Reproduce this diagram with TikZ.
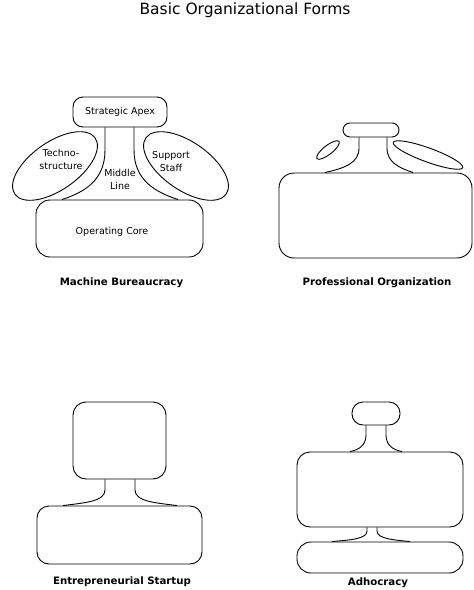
\documentclass[tikz,border=0pt]{standalone}
\usepackage{fontspec}
\setmainfont{DejaVu Sans}
\begin{document}
\begin{tikzpicture}[x=1pt,y=-1pt,line width=0.9pt,
  box/.style={draw,rectangle,inner sep=0pt},
  txt/.style={inner sep=0pt,align=center,font=\fontsize{9.5}{13}\selectfont},
  captxt/.style={inner sep=0pt,font=\fontsize{10.2}{12}\selectfont\bfseries},
  neck/.style={line width=0.9pt}]
\useasboundingbox (0,0) rectangle (474,590);
\node[inner sep=0pt,font=\fontsize{15.5}{18}\selectfont] (title) at (245,10) {Basic Organizational Forms};

% ---------- Machine Bureaucracy ----------
\node[box,minimum width=94pt,minimum height=30pt,rounded corners=10pt,font=\fontsize{9.5}{12}\selectfont] (mbapex) at (120,112) {Strategic Apex};
\node[box,minimum width=167pt,minimum height=57pt,rounded corners=14pt] (mbcore) at (119.5,228.5) {};
\node[txt] (mbcoretxt) at (112,232) {Operating Core};
\draw[rotate around={35:(55,166)}] (55,166) ellipse [x radius=49pt,y radius=24pt];
\draw[rotate around={-35:(186,166)}] (186,166) ellipse [x radius=49pt,y radius=24pt];
\node[txt] (techno) at (61,159.5) {Techno-\\structure};
\node[txt] (support) at (171,161.5) {Support\\Staff};
\node[txt] (middle) at (120,179) {Middle\\Line};
\draw[neck] (mbapex.south -| 105,0) -- (105,150) .. controls (105,180) and (85,192) .. (mbcore.north -| 62,0);
\draw[neck] (mbapex.south -| 134,0) -- (134,150) .. controls (134,180) and (155,192) .. (mbcore.north -| 178,0);
\node[captxt] (mbcap) at (121.5,283) {Machine Bureaucracy};

% ---------- Professional Organization ----------
\node[box,minimum width=56pt,minimum height=14pt,rounded corners=7pt] (poapex) at (371,130) {};
\node[box,minimum width=193pt,minimum height=85pt,rounded corners=15pt] (pocore) at (375.5,215.5) {};
\draw[rotate around={38:(328,150)}] (328,150) ellipse [x radius=14pt,y radius=4.5pt];
\draw[rotate around={-20:(428,155)}] (428,155) ellipse [x radius=37pt,y radius=7pt];
\draw[neck] (poapex.south -| 359,0) -- (359,148) .. controls (359,163) and (345,168) .. (pocore.north -| 325,0);
\draw[neck] (poapex.south -| 387,0) -- (387,148) .. controls (387,163) and (400,168) .. (pocore.north -| 413,0);
\node[captxt] (pocap) at (377,283) {Professional Organization};

% ---------- Entrepreneurial Startup ----------
\node[box,minimum width=93pt,minimum height=77pt,rounded corners=13pt] (estop) at (119.5,440.5) {};
\node[box,minimum width=165pt,minimum height=58pt,rounded corners=12pt] (esbot) at (119.5,535) {};
\draw[neck] (estop.south -| 105,0) -- (105,490) .. controls (105,502) and (82,503) .. (esbot.north -| 63,0);
\draw[neck] (estop.south -| 135,0) -- (135,490) .. controls (135,502) and (158,503) .. (esbot.north -| 177,0);
\node[captxt] (escap) at (122,582) {Entrepreneurial Startup};

% ---------- Adhocracy ----------
\node[box,minimum width=48pt,minimum height=23pt,rounded corners=11pt] (adtop) at (376,413.5) {};
\node[box,minimum width=166pt,minimum height=75pt,rounded corners=13pt] (admid) at (380,489.5) {};
\node[box,minimum width=166pt,minimum height=31pt,rounded corners=14pt] (adbot) at (380,557.5) {};
\draw[neck] (adtop.south -| 366,0) -- (366,435) .. controls (366,446) and (358,450) .. (admid.north -| 350,0);
\draw[neck] (adtop.south -| 386,0) -- (386,435) .. controls (386,446) and (394,450) .. (admid.north -| 402,0);
\draw[neck] (admid.south -| 367,0) -- (367,531) .. controls (367,539) and (350,540) .. (adbot.north -| 332,0);
\draw[neck] (admid.south -| 377,0) -- (377,531) .. controls (377,539) and (395,540) .. (adbot.north -| 410,0);
\node[captxt] (adcap) at (378,583) {Adhocracy};
\end{tikzpicture}
\end{document}
